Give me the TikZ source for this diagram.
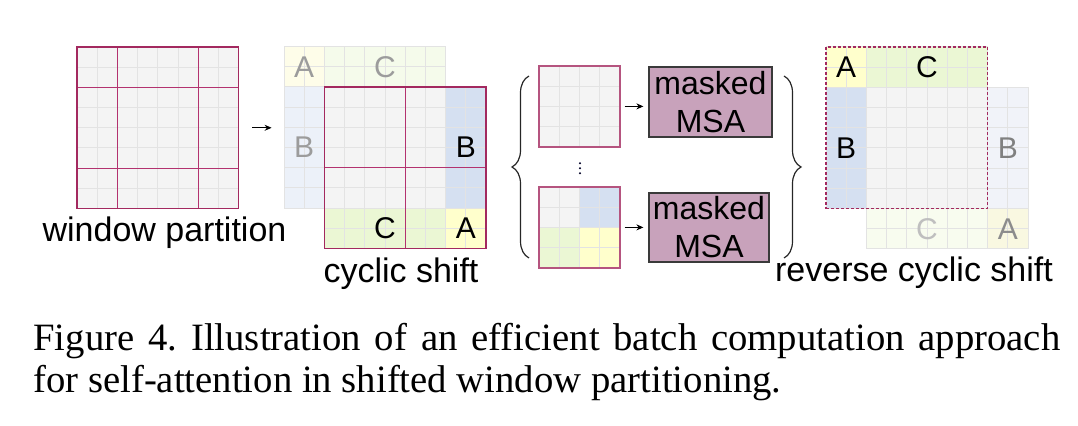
\documentclass[tikz,border=0pt]{standalone}
\usepackage{fontspec}
\setmainfont{Liberation Serif}
\newfontfamily\figfont{Liberation Sans}
\usepackage{tikz}
\usetikzlibrary{arrows.meta, decorations.pathreplacing}
\frenchspacing

\definecolor{cellgray}{HTML}{F4F4F4}
\definecolor{gridgray}{HTML}{E3E3E3}
\definecolor{winred}{HTML}{A3295F}
\definecolor{innerred}{HTML}{B3326F}
\definecolor{blockA}{HTML}{FFFFCC}
\definecolor{blockB}{HTML}{D5E0F1}
\definecolor{blockC}{HTML}{EBF7D4}
\definecolor{fadeA}{HTML}{FEFDE9}
\definecolor{fadeB}{HTML}{ECF1F9}
\definecolor{fadeC}{HTML}{F5FBEB}
\definecolor{fadeAr}{HTML}{F9F8E1}
\definecolor{fadeBr}{HTML}{F1F3F9}
\definecolor{fadeCr}{HTML}{F8FCEF}
\definecolor{fadetext}{HTML}{9C9C9C}
\definecolor{msafill}{HTML}{C8A2BB}
\definecolor{msaline}{HTML}{3A3A3A}

% a block of cells: columns #1..#3, rows #2..#4, filled with #5
\newcommand{\cellpatch}[5]{%
  \fill[#5] (#1,#2) rectangle (#3,#4);
  \foreach \k in {#1,...,#3} \draw[cellline] (\k,#2) -- (\k,#4);
  \foreach \k in {#2,...,#4} \draw[cellline] (#1,\k) -- (#3,\k);
}

\tikzset{
  cellline/.style={draw=gridgray, line width=0.5pt},
  winline/.style={draw=innerred, line width=0.6pt},
  winframe/.style={draw=winred, line width=0.8pt, inner sep=0pt},
  revframe/.style={draw=winred, line width=0.6pt, dash pattern=on 1.5pt off 1pt, inner sep=0pt},
  msabox/.style={draw=msaline, fill=msafill, line width=0.6pt, align=center, inner sep=0pt,
    font=\figfont\fontsize{16}{19}\selectfont},
  figletter/.style={font=\figfont\fontsize{15}{18}\selectfont, inner sep=0pt},
  fadeletter/.style={figletter, text=fadetext},
  figlabel/.style={font=\figfont\fontsize{17}{20}\selectfont, anchor=base, inner sep=0pt},
  capline/.style={font=\fontsize{19.35}{21}\selectfont, anchor=base west, inner sep=0pt},
  flowarrow/.style={-{Stealth[length=3.5pt, width=3pt]}, line width=0.5pt},
  bracedeco/.style={decorate, decoration={brace, amplitude=8.5pt}, line width=0.6pt, draw=black!85},
}

\begin{document}
\begin{tikzpicture}[x=0.5pt, y=-0.5pt]
\useasboundingbox (0,0) rectangle (1078,426);

% window partition
\begin{scope}[shift={(77,47)}, x=10.1pt, y=-10.1pt]
\cellpatch{0}{0}{8}{8}{cellgray}
\draw[winline] (2,0) -- (2,8);
\draw[winline] (6,0) -- (6,8);
\draw[winline] (0,2) -- (8,2);
\draw[winline] (0,6) -- (8,6);
\node[winframe, minimum size=80.8pt] (part) at (4,4) {};
\end{scope}
\node[figlabel] (partlabel) at (164.5,242) {window partition};

% cyclic shift
\begin{scope}[shift={(284,46.5)}, x=10.1pt, y=-10.1pt]
\cellpatch{0}{0}{2}{2}{fadeA}
\cellpatch{2}{0}{8}{2}{fadeC}
\cellpatch{0}{2}{2}{8}{fadeB}
\cellpatch{2}{2}{8}{8}{cellgray}
\cellpatch{8}{2}{10}{8}{blockB}
\cellpatch{2}{8}{8}{10}{blockC}
\cellpatch{8}{8}{10}{10}{blockA}
\draw[winline] (6,2) -- (6,10);
\draw[winline] (2,6) -- (10,6);
\node[winframe, minimum size=80.8pt] (shift) at (6,6) {};
\node[fadeletter] at (1,1) {A};
\node[fadeletter] at (5,1) {C};
\node[fadeletter] at (1,5) {B};
\node[figletter] at (9,5) {B};
\node[figletter] at (5,9) {C};
\node[figletter] at (9,9) {A};
\end{scope}
\node[figlabel] (shiftlabel) at (401,283) {cyclic shift};

\draw[flowarrow, shorten <=6.5pt, shorten >=26pt] (part.east) -- (part.east -| shift.west);

% batched windows
\draw[bracedeco] (529,258) -- (529,76);
\begin{scope}[shift={(539,66)}, x=10.1pt, y=-10.1pt]
\cellpatch{0}{0}{4}{4}{cellgray}
\node[winframe, draw=winred!80, minimum size=40.4pt] (win1) at (2,2) {};
\end{scope}
\foreach \k in {0,1,2} \fill[black!85!blue] (580,163.3+5*\k) circle (0.6pt);
\begin{scope}[shift={(539,187)}, x=10.1pt, y=-10.1pt]
\cellpatch{0}{0}{2}{2}{cellgray}
\cellpatch{2}{0}{4}{2}{blockB}
\cellpatch{0}{2}{2}{4}{blockC}
\cellpatch{2}{2}{4}{4}{blockA}
\node[winframe, draw=winred!80, minimum size=40.4pt] (win2) at (2,2) {};
\end{scope}

\node[msabox, minimum width=61.5pt, minimum height=35pt] (msa1) at (710.5,102) {masked\\MSA};
\node[msabox, minimum width=60pt, minimum height=34.5pt] (msa2) at (709,227.5) {masked\\MSA};
\draw[flowarrow, shorten <=2pt, shorten >=2.5pt] (win1.east) -- (win1.east -| msa1.west);
\draw[flowarrow, shorten <=2pt, shorten >=2.5pt] (win2.east) -- (win2.east -| msa2.west);
\draw[bracedeco] (784,76) -- (784,258);

% reverse cyclic shift
\begin{scope}[shift={(826,47)}, x=10.1pt, y=-10.1pt]
\cellpatch{0}{0}{2}{2}{blockA}
\cellpatch{2}{0}{8}{2}{blockC}
\cellpatch{0}{2}{2}{8}{blockB}
\cellpatch{2}{2}{8}{8}{cellgray}
\cellpatch{8}{2}{10}{8}{fadeBr}
\cellpatch{2}{8}{8}{10}{fadeCr}
\cellpatch{8}{8}{10}{10}{fadeAr}
\node[revframe, minimum size=80.8pt] (rev) at (4,4) {};
\node[figletter] at (1,1) {A};
\node[figletter] at (5,1) {C};
\node[figletter] at (1,5) {B};
\node[fadeletter, text=black!50] at (9,5) {B};
\node[fadeletter, text=black!25] at (5,9) {C};
\node[fadeletter, text=black!45] at (9,9) {A};
\end{scope}
\node[figlabel] (revlabel) at (914,282) {reverse cyclic shift};

% caption
\node[capline] (cap1) at (33,350.7) {\makebox[513.5pt][s]{Figure 4. Illustration of an efficient batch computation approach}};
\node[capline] (cap2) at (33,393) {for self-attention in shifted window partitioning.};
\end{tikzpicture}
\end{document}
